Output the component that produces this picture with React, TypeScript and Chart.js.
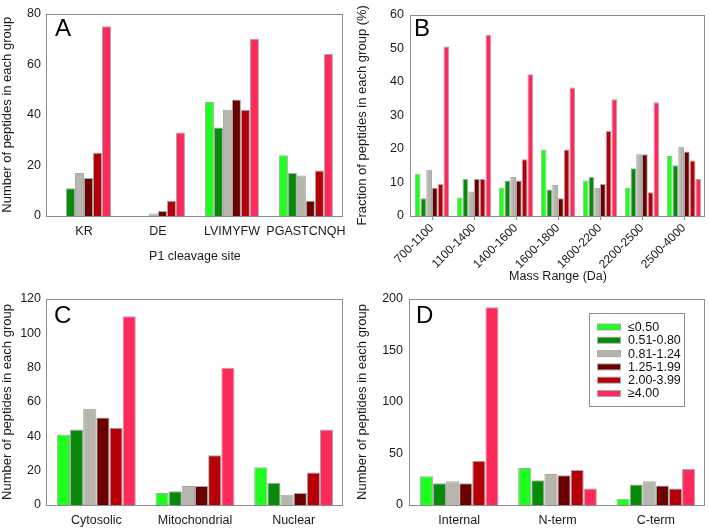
import React, { useEffect, useRef } from 'react';
import { Chart, registerables } from 'chart.js';

Chart.register(...registerables);
Chart.defaults.font.family = "'Liberation Sans', Arial, sans-serif";
Chart.defaults.color = '#1a1a1a';

const NARROW = "'Liberation Sans Narrow', 'Arial Narrow', 'Liberation Sans', Arial, sans-serif";
const REGULAR = "'Liberation Sans', Arial, sans-serif";

// ---- series (fold-change groups) ----
const seriesLabels = ['≤0.50', '0.51-0.80', '0.81-1.24', '1.25-1.99', '2.00-3.99', '≥4.00'];
const seriesColors = ['#1EFF1E', '#078A07', '#B6B6AE', '#6B0000', '#B5000A', '#FF2A5C'];

// ---- Panel A: P1 cleavage site ----
const aCategories = ['KR', 'DE', 'LVIMYFW', 'PGASTCNQH'];
const aKR = [0, 11, 17, 15, 25, 75];
const aDE = [0, 0, 1, 2, 6, 33];
const aLVIMYFW = [45, 35, 42, 46, 42, 70];
const aPGASTCNQH = [24, 17, 16, 6, 18, 64];

// ---- Panel B: Mass range ----
const bCategories = ['700-1100', '1100-1400', '1400-1600', '1600-1800', '1800-2200', '2200-2500', '2500-4000'];
const b700 = [12.6, 5.3, 13.8, 8.4, 9.5, 50.5];
const b1100 = [5.5, 11.0, 7.3, 11.0, 11.0, 54.0];
const b1400 = [8.4, 10.6, 11.6, 10.6, 16.9, 42.2];
const b1600 = [19.8, 7.9, 9.2, 5.3, 19.8, 38.3];
const b1800 = [10.6, 11.6, 8.4, 9.5, 25.3, 34.8];
const b2200 = [8.4, 14.2, 18.4, 18.4, 7.1, 33.9];
const b2500 = [17.9, 15.1, 20.6, 19.2, 16.5, 11.0];

// ---- Panel C: subcellular location ----
const cCategories = ['Cytosolic', 'Mitochondrial', 'Nuclear'];
const cCytosolic = [41, 44, 56, 51, 45, 110];
const cMitochondrial = [7, 8, 11, 11, 29, 80];
const cNuclear = [22, 13, 6, 7, 19, 44];

// ---- Panel D: position ----
const dCategories = ['Internal', 'N-term', 'C-term'];
const dInternal = [28, 21, 23, 21, 43, 192];
const dNterm = [36, 24, 30, 29, 34, 16];
const dCterm = [6, 20, 23, 19, 16, 35];

type PanelProps = {
  left: number;
  top: number;
  width: number;
  height: number;
  categories: string[];
  groups: number[][];
  yMax: number;
  yStep: number;
  yTitle: string;
  xTitle?: string;
  letter: string;
  letterDx: number;
  letterDy: number;
  padTop: number;
  padRight: number;
  yWidth: number;
  xHeight: number;
  catPct: number;
  rotated?: boolean;
  legend?: boolean;
  xTickPad: number;
  xTickSize: number;
  yTickPad: number;
};

function Panel(p: PanelProps) {
  const ref = useRef<HTMLCanvasElement>(null);
  useEffect(() => {
    const datasets = seriesLabels.map((label, si) => ({
      label,
      data: p.groups.map((g) => g[si]),
      backgroundColor: seriesColors[si],
      borderColor: 'rgba(95,95,95,0.55)',
      borderWidth: 1,
      barPercentage: 1,
      categoryPercentage: p.catPct,
    }));
    const decor = {
      id: 'decor' + p.letter,
      afterDraw(chart: any) {
        const { ctx, chartArea } = chart;
        const l = Math.round(chartArea.left);
        const t = Math.round(chartArea.top);
        const r = Math.round(chartArea.right);
        const b = Math.round(chartArea.bottom);
        ctx.save();
        ctx.strokeStyle = '#8c8c8c';
        ctx.lineWidth = 1;
        ctx.strokeRect(l - 0.5, t + 0.5, r - l, b - t);
        ctx.fillStyle = '#000';
        ctx.font = `24px ${REGULAR}`;
        ctx.textBaseline = 'alphabetic';
        ctx.textAlign = 'left';
        ctx.fillText(p.letter, l + p.letterDx, t + p.letterDy);
        if (p.legend) {
          const bx = 234, by = 53, bw = 95, bh = 93;
          ctx.strokeStyle = '#8c8c8c';
          ctx.strokeRect(bx + 0.5, by + 0.5, bw, bh);
          ctx.font = `12.5px ${NARROW}`;
          ctx.textBaseline = 'middle';
          chart.data.datasets.forEach((ds: any, i: number) => {
            const cy = by + 14 + i * 13.3;
            ctx.fillStyle = 'rgba(95,95,95,0.55)';
            ctx.fillRect(bx + 8, cy - 3.5, 24, 7);
            ctx.fillStyle = ds.backgroundColor;
            ctx.fillRect(bx + 9, cy - 2.5, 22, 5);
            ctx.fillStyle = '#111';
            ctx.fillText(ds.label, bx + 39, cy + 0.5);
          });
        }
        ctx.restore();
      },
    };
    const chart = new Chart(ref.current as HTMLCanvasElement, {
      type: 'bar',
      data: { labels: p.categories, datasets },
      options: {
        animation: false,
        responsive: false,
        maintainAspectRatio: false,
        layout: { padding: { top: p.padTop, right: p.padRight, left: 0, bottom: 0 } },
        plugins: { legend: { display: false }, tooltip: { enabled: false } },
        scales: {
          x: {
            grid: {
              display: !!p.rotated,
              drawOnChartArea: false,
              drawTicks: !!p.rotated,
              tickLength: 4,
              offset: false,
              color: '#8c8c8c',
            },
            border: { display: false },
            ticks: {
              autoSkip: false,
              minRotation: p.rotated ? 45 : 0,
              maxRotation: p.rotated ? 45 : 0,
              padding: p.xTickPad,
              font: { size: p.xTickSize, family: NARROW },
              color: '#1a1a1a',
            },
            title: {
              display: !!p.xTitle,
              text: p.xTitle || '',
              font: { size: 12.5, family: REGULAR },
              color: '#1a1a1a',
              padding: { top: 0, bottom: 6 },
            },
            afterFit: (s: any) => {
              s.height = p.xHeight;
            },
          },
          y: {
            min: 0,
            max: p.yMax,
            grid: { display: false, drawTicks: false },
            border: { display: false },
            ticks: { stepSize: p.yStep, padding: p.yTickPad, font: { size: 12.5, family: NARROW }, color: '#1a1a1a' },
            title: {
              display: true,
              text: p.yTitle,
              font: { size: 13, family: REGULAR },
              color: '#1a1a1a',
              padding: { top: 0, bottom: 0 },
            },
            afterFit: (s: any) => {
              s.width = p.yWidth;
            },
          },
        },
      } as any,
      plugins: [decor],
    });
    return () => chart.destroy();
  }, []);
  return (
    <canvas
      ref={ref}
      width={p.width}
      height={p.height}
      style={{ position: 'absolute', left: p.left, top: p.top, width: p.width, height: p.height }}
    />
  );
}

export default function App() {
  return (
    <div style={{ position: 'absolute', left: 0, top: 0, width: 709, height: 532, background: '#fff', overflow: 'hidden' }}>
      <Panel
        left={0} top={0} width={355} height={270}
        categories={aCategories}
        groups={[aKR, aDE, aLVIMYFW, aPGASTCNQH]}
        yMax={80} yStep={20}
        yTitle="Number of peptides in each group"
        xTitle="P1 cleavage site"
        letter="A" letterDx={8} letterDy={22}
        padTop={11} padRight={12} yWidth={47} xHeight={54}
        catPct={0.73} xTickPad={8} xTickSize={12.5} yTickPad={6}
      />
      <Panel
        left={355} top={0} width={354} height={290}
        categories={bCategories}
        groups={[b700, b1100, b1400, b1600, b1800, b2200, b2500]}
        yMax={60} yStep={10}
        yTitle="Fraction of peptides in each group (%)"
        xTitle="Mass Range (Da)"
        letter="B" letterDx={3} letterDy={21}
        padTop={11} padRight={4} yWidth={56} xHeight={74}
        catPct={0.82} rotated xTickPad={1} xTickSize={12} yTickPad={7}
      />
      <Panel
        left={0} top={260} width={355} height={272}
        categories={cCategories}
        groups={[cCytosolic, cMitochondrial, cNuclear]}
        yMax={120} yStep={20}
        yTitle="Number of peptides in each group"
        letter="C" letterDx={7} letterDy={24}
        padTop={39} padRight={12} yWidth={47} xHeight={27}
        catPct={0.8} xTickPad={8} xTickSize={12.5} yTickPad={6}
      />
      <Panel
        left={355} top={260} width={354} height={272}
        categories={dCategories}
        groups={[dInternal, dNterm, dCterm]}
        yMax={200} yStep={50}
        yTitle="Number of peptides in each group"
        letter="D" letterDx={6} letterDy={24}
        padTop={39} padRight={4} yWidth={55} xHeight={27}
        catPct={0.8} legend xTickPad={8} xTickSize={12.5} yTickPad={7}
      />
    </div>
  );
}
